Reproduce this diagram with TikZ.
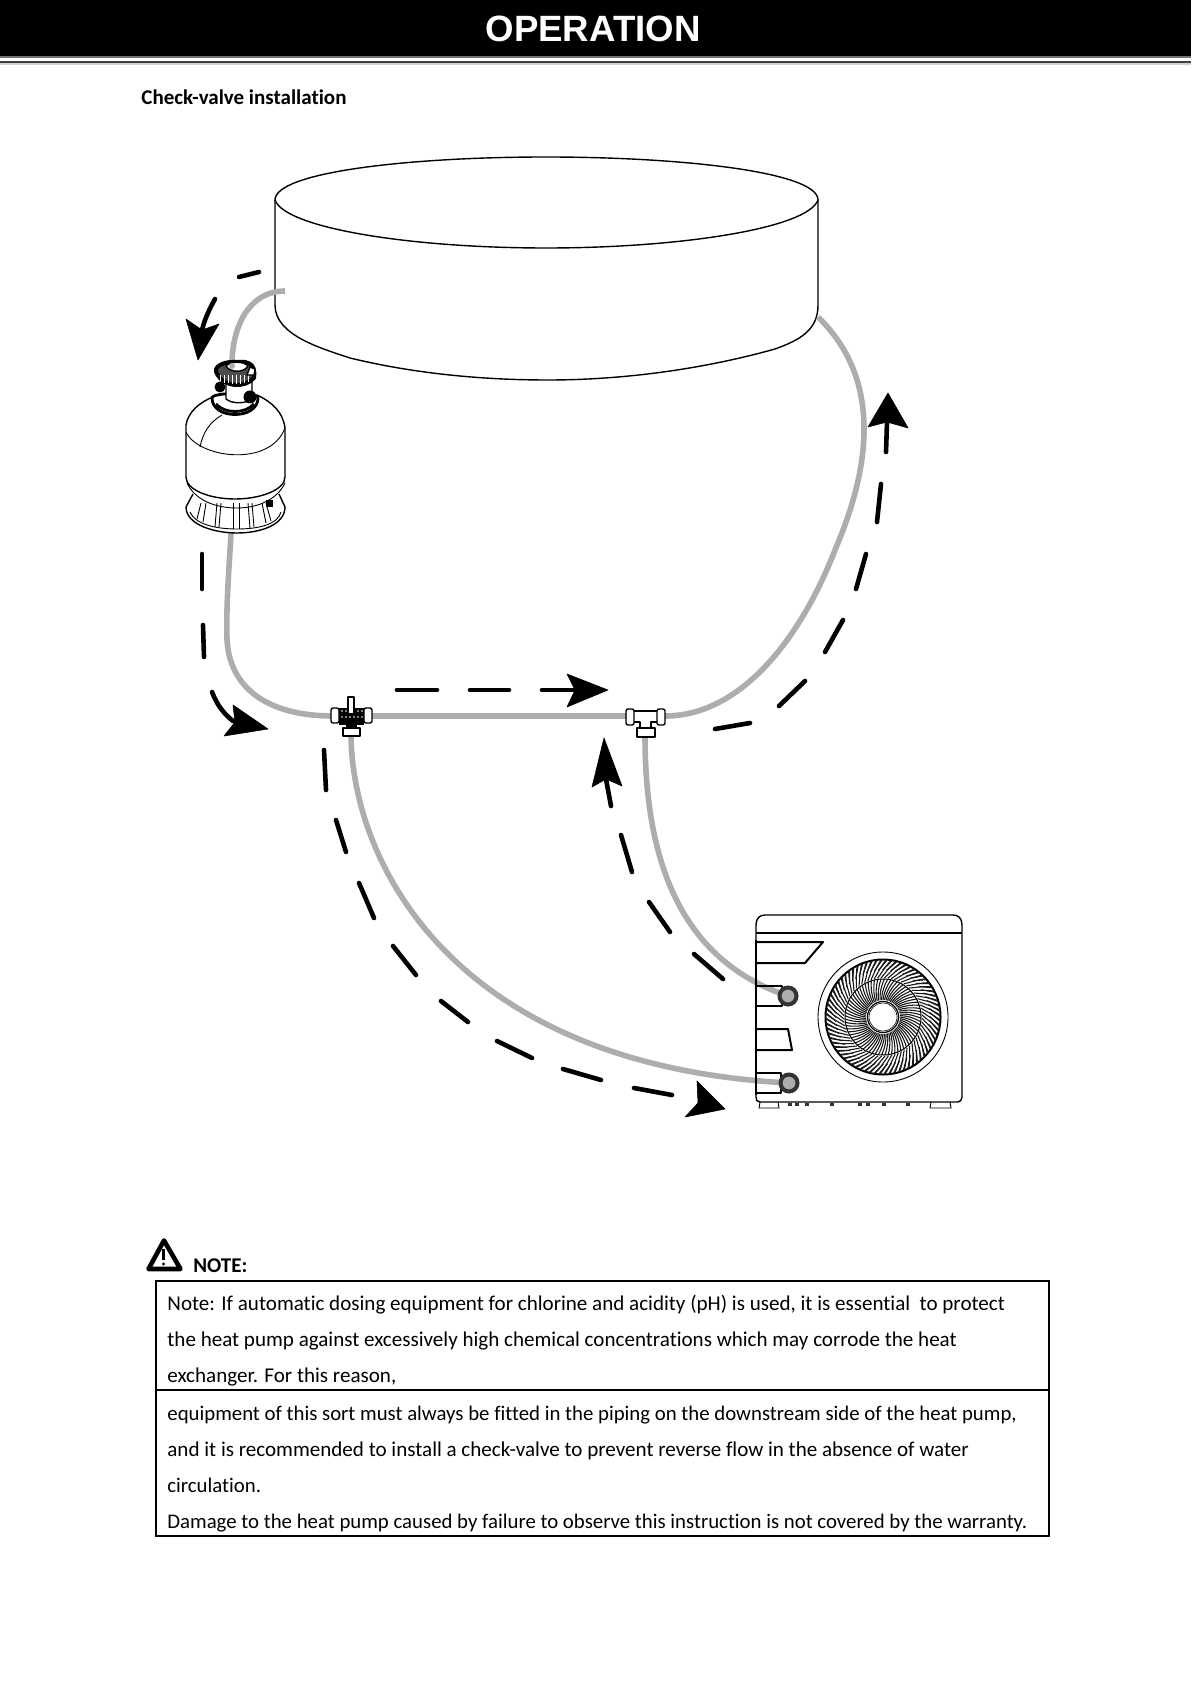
\documentclass[tikz,border=0pt]{standalone}
\usepackage{fontspec}
\setmainfont[Ligatures=NoCommon]{Carlito}
\newfontfamily\headfont{Liberation Sans}
\usetikzlibrary{calc}
\definecolor{pipegray}{gray}{0.68}
\tikzset{
	pipe/.style={line width=2.8pt,draw=pipegray},
	flow/.style={line width=2.3pt,line cap=round,draw=black},
	flowhead/.style={fill=black,draw=black,line width=0.3pt,line join=round},
	part/.style={line width=0.7pt,draw=black,line join=round},
	thinline/.style={line width=0.45pt,draw=black},
	notetxt/.style={anchor=base west,inner sep=0pt,font=\fontsize{10.4}{12}\selectfont},
	notewide/.style={notetxt,font=\fontsize{10.53}{12}\selectfont},
}
\begin{document}
\begin{tikzpicture}[x=0.5pt,y=-0.5pt]
	\def\dsh#1#2{\draw[flow] (#1) -- (#2);}
	\useasboundingbox (0,0) rectangle (1191,1684);
	% header
	\fill[black] (0,0) rectangle (1191,56);
	\fill[black!55] (0,56) rectangle (1191,58);
	\fill[black!75] (0,61) rectangle (1191,63.5);
	\fill[black!18] (0,63.5) rectangle (1191,65);
	\node[text=white,inner sep=0pt,font=\headfont\bfseries\fontsize{18.3}{20}\selectfont] (optitle) at (593,29) {OPERATION};
	\node[notetxt,font=\bfseries\fontsize{10.5}{12}\selectfont] (subtitle) at (141,105) {Check-valve installation};
	% tub
	\draw[part] (275,200) .. controls (275,172) and (410,157) .. (546,157) .. controls (682,157) and (818,172) .. (818,200);
	\draw[part] (275,200) .. controls (285,228) and (410,248) .. (546,248) .. controls (682,248) and (808,228) .. (818,200);
	\draw[part] (275,200) -- (275,305) .. controls (275,335) and (320,348) .. (350,358) .. controls (420,375) and (490,380) .. (548,380) .. controls (620,380) and (700,370) .. (775,349) .. controls (800,340) and (818,330) .. (818,305) -- (818,200);
	% pipe ends
	\coordinate (tubout) at (285,291);
	\coordinate (tubin) at (818,317);
	\coordinate (filtop) at (232,365);
	\coordinate (filbot) at (231,533);
	\coordinate (valveL) at (333,716);
	\coordinate (valveR) at (370,716);
	\coordinate (valveB) at (351,735);
	\coordinate (teeL) at (627,716);
	\coordinate (teeR) at (665,716);
	\coordinate (teeB) at (645,736);
	\coordinate (pumpA) at (788,996);
	\coordinate (pumpB) at (789,1083);
	% pipes
	\draw[pipe] (tubout) .. controls (250,291) and (232,325) .. (filtop);
	\draw[pipe] (filbot) .. controls (229,570) and (226,605) .. (227,640) .. controls (230,690) and (270,716) .. (valveL);
	\draw[pipe] (valveR) -- (teeL);
	\draw[pipe] (teeR) .. controls (740,716) and (800,640) .. (835,550) .. controls (865,480) and (888,385) .. (tubin);
	\draw[pipe] (valveB) .. controls (352,860) and (450,1065) .. (pumpB);
	\draw[pipe] (teeB) .. controls (645,860) and (680,960) .. (pumpA);
	% filter
	\begin{scope}
		\draw[part] (186,507) .. controls (186,525) and (215,533) .. (237,533) .. controls (260,533) and (285,525) .. (285,507);
		\draw[thinline] (190,512) .. controls (195,524) and (215,529) .. (237,529) .. controls (260,529) and (278,524) .. (281,512);
		\draw[part] (186,507) -- (193,494);
		\draw[part] (285,507) -- (279,494);
		\foreach \x/\u/\y in {197/201/519,203/206/522,215/217/527,219/221/527,233/233/529,239/239/529,250/248/528,254/252/527,266/262/523,271/266/521} {\draw[thinline] (\x,\y) -- (\u,503);}
		\draw[part,fill=white] (186,477) -- (186,425) .. controls (188,412) and (200,402) .. (213,397) -- (257,395) .. controls (272,402) and (283,412) .. (285,428) -- (285,477) .. controls (285,490) and (260,499) .. (235,499) .. controls (210,499) and (186,490) .. (186,477);
		\draw[thinline] (186,432) .. controls (198,458) and (270,468) .. (285,428);
		\draw[thinline] (200,447) .. controls (203,432) and (210,422) .. (222,415);
		\draw[thinline] (187,483) .. controls (195,500) and (215,508) .. (237,508) .. controls (260,508) and (278,498) .. (285,483);
		\fill[black] (266,500) rectangle (273,507);
		% head
		\draw[part,line width=1.4pt,fill=white] (212,398) .. controls (212,420) and (258,420) .. (258,398) .. controls (258,392) and (212,392) .. (212,398) -- cycle;
		\draw[part,line width=1.4pt] (216,404) .. controls (225,414) and (245,414) .. (254,404);
		\draw[part,fill=white] (226,382) -- (226,399) .. controls (232,404) and (245,404) .. (252,399) -- (252,382) -- cycle;
		\fill[black] (220,387) circle[radius=5.5];
		\fill[black] (250,397) circle[radius=6.5];
		\draw[part,line width=2pt,fill=black!70] (217,374) .. controls (212,366) and (225,362) .. (232,362) -- (245,362) .. controls (255,364) and (255,372) .. (254,378) .. controls (245,388) and (225,388) .. (217,374);
		\foreach \x in {220,224,...,250} {\draw[line width=0.5pt,draw=white] (\x,375) -- (\x,{384-0.012*(\x-235)*(\x-235)});}
		\draw[part,fill=white] (226,366) .. controls (230,373) and (244,373) .. (248,366) .. controls (244,361) and (230,361) .. (226,366);
		\draw[part,fill=white] (250,367) -- (255,369) -- (254,375) -- (247,375) -- cycle;
		\fill[pipegray] (232,366) circle[radius=3];
	\end{scope}
	% check valve and tee
	\draw[part,fill=white,rounded corners=1pt] (331,708) rectangle (339,723);
	\draw[part,fill=white,rounded corners=1pt] (364,708) rectangle (372,723);
	\fill[black] (339,708) rectangle (364,725);
	\fill[black] (346,725) rectangle (357,728);
	\foreach \x in {342,346,...,362} {\fill[white] (\x,711) circle[radius=0.8];\fill[white] (\x,717) circle[radius=0.8];}
	\draw[part,fill=white] (348,697) rectangle (354,714);
	\draw[part,fill=white] (343,728) rectangle (360,736);
	\draw[part,rounded corners=1pt] (626,709) rectangle (634,725);
	\draw[part,rounded corners=1pt] (657,709) rectangle (665,725);
	\draw[part] (634,711) -- (657,711);
	\draw[part] (634,722) -- (640,722) -- (640,728);
	\draw[part] (657,722) -- (651,722) -- (651,728);
	\draw[part,fill=white] (637,728) rectangle (655,737);
	% heat pump
	\draw[part] (756,925) .. controls (756,918) and (760,915) .. (765,915) -- (953,915) .. controls (958,915) and (962,918) .. (962,925) -- (962,1097) .. controls (962,1100) and (960,1102) .. (958,1102) -- (760,1102) .. controls (757,1102) and (756,1100) .. (756,1097) -- cycle;
	\draw[part,line width=1pt] (756,933) -- (962,933);
	\draw[part,line width=1pt] (756,942) -- (823,942) -- (805,963) -- (756,963);
	\draw[part,line width=1pt] (756,986) -- (782,986) -- (782,1006) -- (756,1006);
	\draw[part,line width=1pt] (756,1029) -- (788,1029) -- (792,1050) -- (756,1050);
	\draw[part,line width=1pt] (756,1073) -- (781,1073) -- (781,1093) -- (756,1093);
	\draw[line width=1.3pt] (756,940) -- (756,1095);
	\foreach \x/\u in {760/778,931/950} {\draw[thinline] (\x,1102) -- (\x-1,1108) -- (\u+1,1108) -- (\u,1102);}
	\foreach \x in {788,795,805,830,858,866,882,906} {\fill[black!80] (\x,1103) rectangle (\x+4,1105.5);}
	\draw[line width=2pt,draw=black!80,fill=pipegray] (pumpA) circle[radius=8.5];
	\draw[line width=2pt,draw=black!80,fill=pipegray] (pumpB) circle[radius=8.5];
	% fan
	\begin{scope}[shift={(883,1017)}]
		\draw[thinline] (0,0) circle[radius=65];
		\draw[line width=1pt] (0,0) circle[radius=57.5];
		\foreach \a in {0,5,...,355} {
			\draw[line width=0.55pt,draw=black!90] (\a:17) .. controls (\a+2:24) and (\a+6:30) .. (\a+12:38);
			\draw[line width=0.55pt,draw=black!90] (\a+2:39) .. controls (\a+8:44) and (\a+12:50) .. (\a+18:57);
			\draw[line width=0.55pt,draw=black!90] (\a+4.5:47) .. controls (\a+8:50) and (\a+11:53) .. (\a+14:57);
		}
		\draw[line width=0.5pt] (0,0) circle[radius=38];
		\draw[line width=0.6pt,fill=white] (0,0) circle[radius=15.5];
		\draw[line width=0.3pt] (0,0) circle[radius=14];
	\end{scope}
	% flow dashes
	\dsh{239,277}{259,272}
	\draw[flow] (215,299) .. controls (210,308) and (205,318) .. (202,330);
	\draw[flowhead] (198,360) -- (186,319) -- (202,330) -- (219,324) -- cycle;
	\dsh{202,554}{202,589}
	\dsh{203,625}{204,657}
	\draw[flow] (212,692) .. controls (217,705) and (224,714) .. (233,721);
	\draw[flowhead] (268,729) -- (233,705) -- (235,722) -- (224,736) -- cycle;
	\dsh{397,690}{437,690}
	\dsh{470,690}{509,690}
	\dsh{542,690}{575,690}
	\draw[flowhead] (608,690) -- (567,674) -- (575,690) -- (567,707) -- cycle;
	\dsh{324,750}{326,790}
	\dsh{336,820}{346,852}
	\dsh{359,883}{374,918}
	\dsh{393,946}{416,975}
	\dsh{441,1001}{468,1022}
	\dsh{497,1041}{532,1058}
	\dsh{563,1069}{601,1080}
	\dsh{634,1088}{672,1095}
	\draw[flowhead] (725,1109) -- (697,1081) -- (698,1103) -- (685,1117) -- cycle;
	\dsh{611,806}{606,779}
	\draw[flowhead] (604,738) -- (592,787) -- (606,779) -- (622,786) -- cycle;
	\dsh{621,835}{632,872}
	\dsh{649,902}{670,932}
	\dsh{694,954}{723,979}
	\dsh{715,729}{750,723}
	\dsh{779,706}{805,681}
	\dsh{825,652}{843,620}
	\dsh{856,589}{866,554}
	\dsh{877,522}{881,484}
	\dsh{886,452}{887,422}
	\draw[flowhead] (888,393) -- (868,427) -- (887,422) -- (908,428) -- cycle;
	% note
	\draw[line width=2.3pt,line join=round,fill=white] (164,1240.5) -- (148.5,1269) -- (180.5,1269) -- cycle;
	\draw[line width=1.1pt] (163.5,1249) -- (163.5,1260);
	\fill[black] (163.5,1264) circle[radius=1.7];
	\node[notetxt,font=\bfseries\fontsize{10.5}{12}\selectfont] (notehead) at (193,1272) {NOTE:};
	\draw[line width=0.9pt] (156,1281) rectangle (1049,1536);
	\draw[line width=0.9pt] (156,1390) -- (1049,1390);
	\node[notewide] (lineA) at (167,1310) {Note: If automatic dosing equipment for chlorine and acidity (pH) is used, it is essential~ to protect};
	\node[notewide] (lineB) at (167,1346) {the heat pump against excessively high chemical concentrations which may corrode the heat};
	\node[notewide] (lineC) at (167,1382) {exchanger. For this reason,};
	\node[notetxt] (lineD) at (167,1420) {equipment of this sort must always be fitted in the piping on the downstream side of the heat pump,};
	\node[notewide] (lineE) at (167,1456) {and it is recommended to install a check-valve to prevent reverse flow in the absence of water};
	\node[notetxt] (lineF) at (167,1492) {circulation.};
	\node[notetxt] (lineG) at (167,1528) {Damage to the heat pump caused by failure to observe this instruction is not covered by the warranty.};
\end{tikzpicture}
\end{document}
